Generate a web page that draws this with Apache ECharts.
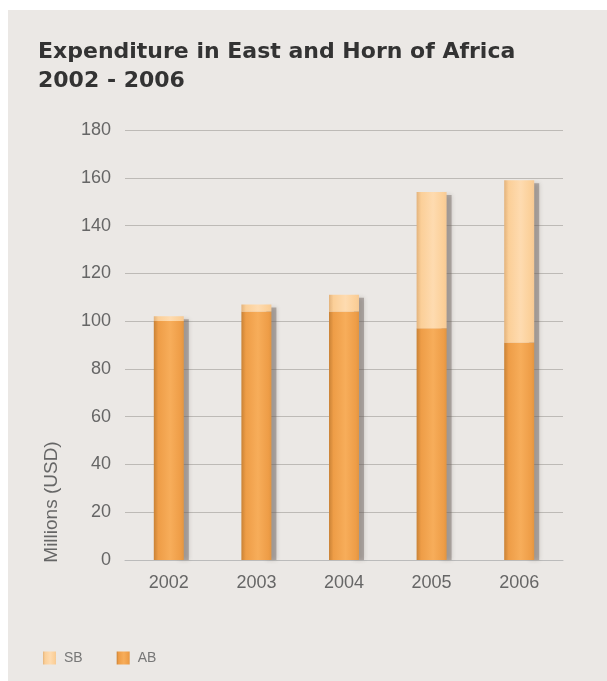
<!DOCTYPE html>
<html><head><meta charset="utf-8">
<script src="https://cdn.jsdelivr.net/npm/echarts@6/dist/echarts.min.js"></script>
<style>html,body{margin:0;padding:0;background:#fff}#c{width:607px;height:681px}</style>
</head><body><div id="c"></div>
<script>
const categories = ['2002','2003','2004','2005','2006'];
const abValues = [100, 104, 104, 97, 91];
const sbValues = [2, 3, 7, 57, 68];
const yTicks = {min: 0, max: 180, interval: 20};

const totals = abValues.map((v, i) => v + sbValues[i]);
const chart = echarts.init(document.getElementById('c'));
function grad(c1, c2, c3, c4) {
  return new echarts.graphic.LinearGradient(0, 0, 1, 0, [
    {offset: 0, color: c1}, {offset: 0.15, color: c2},
    {offset: 0.55, color: c3}, {offset: 0.9, color: c2}, {offset: 1, color: c4}
  ]);
}
chart.setOption({
  backgroundColor: '#ffffff',
  graphic: [
    {type: 'rect', left: 8, top: 10, shape: {width: 599, height: 671}, style: {fill: '#ebe8e5'}, z: -10},
    {type: 'text', x: 52, y: 502, rotation: Math.PI / 2,
     style: {text: 'Millions (USD)', fill: '#666', font: '19px "Liberation Sans", Arial, sans-serif', align: 'center', verticalAlign: 'middle'}}
  ],
  title: {
    text: 'Expenditure in East and Horn of Africa\n2002 - 2006',
    left: 33, top: 33,
    textStyle: {fontFamily: 'DejaVu Sans', fontWeight: 'bold', fontSize: 22, color: '#333', lineHeight: 29}
  },
  legend: {
    left: 38, top: 646, itemWidth: 13, itemHeight: 13, itemGap: 34,
    icon: 'rect',
    data: ['SB', 'AB'],
    textStyle: {color: '#777', fontSize: 14, padding: [0, 0, 0, 3], fontFamily: '"Liberation Sans", Arial, sans-serif'}
  },
  grid: {left: 125, right: 44, top: 130, bottom: 121},
  xAxis: {
    type: 'category', data: categories,
    axisLine: {show: true, lineStyle: {color: '#bbb'}},
    axisTick: {show: false},
    axisLabel: {color: '#666', fontSize: 18, margin: 14, fontFamily: '"Liberation Sans", Arial, sans-serif'}
  },
  yAxis: {
    type: 'value', min: yTicks.min, max: yTicks.max, interval: yTicks.interval,
    axisLine: {show: false}, axisTick: {show: false},
    axisLabel: {color: '#666', fontSize: 18, margin: 14, fontFamily: '"Liberation Sans", Arial, sans-serif'},
    splitLine: {lineStyle: {color: '#bdbab6', width: 1}}
  },
  series: [
    {name: 'shadow', type: 'custom', data: totals, z: 1, silent: true,
     renderItem: function (params, api) {
       const top = api.coord([api.value(0), api.value(1)]);
       const base = api.coord([api.value(0), 0]);
       return {type: 'rect',
         shape: {x: top[0] + 10, y: top[1] + 3, width: 10, height: base[1] - top[1] - 3},
         style: {fill: 'rgba(110,100,95,0.45)', shadowColor: 'rgba(80,70,60,0.5)', shadowBlur: 4}};
     },
     encode: {x: 0, y: 1}},
    {name: 'AB', type: 'bar', stack: 't', data: abValues, barWidth: 30, z: 2,
     itemStyle: {color: grad('#c98236', '#ee9d47', '#f7ad5a', '#e29541')}},
    {name: 'SB', type: 'bar', stack: 't', data: sbValues, barWidth: 30, z: 2,
     itemStyle: {color: grad('#e3b37c', '#fbcf98', '#fedbb0', '#f5c995')}}
  ]
});
</script></body></html>
